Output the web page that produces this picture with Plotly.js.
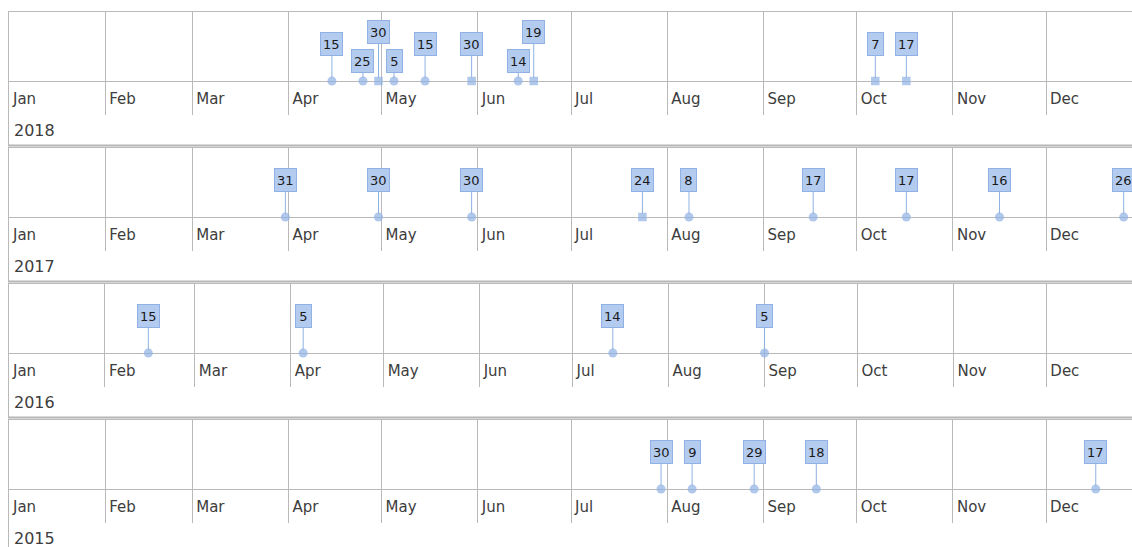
<!DOCTYPE html>
<html>
<head>
<meta charset="utf-8">
<script src="https://cdn.plot.ly/plotly-3.0.1.min.js"></script>
<style>html,body{margin:0;padding:0;background:#fff;}#chart{width:1132px;height:547px;}</style>
</head>
<body>
<div id="chart"></div>
<script>
// ---------------- data ----------------
const years = [2018, 2017, 2016, 2015];

const dates2018  = ['2018-04-15','2018-04-25','2018-04-30','2018-05-05','2018-05-15','2018-05-30','2018-06-14','2018-06-19','2018-10-07','2018-10-17'];
const labels2018 = ['15','25','30','5','15','30','14','19','7','17'];
const kinds2018  = ['dot','dot','square','dot','dot','square','dot','square','square','square'];

const dates2017  = ['2017-03-31','2017-04-30','2017-05-30','2017-07-24','2017-08-08','2017-09-17','2017-10-17','2017-11-16','2017-12-26'];
const labels2017 = ['31','30','30','24','8','17','17','16','26'];
const kinds2017  = ['dot','dot','dot','square','dot','dot','dot','dot','dot'];

const dates2016  = ['2016-02-15','2016-04-05','2016-07-14','2016-09-01'];
const labels2016 = ['15','5','14','5'];
const kinds2016  = ['dot','dot','dot','dot'];

const dates2015  = ['2015-07-30','2015-08-09','2015-08-29','2015-09-18','2015-12-17'];
const labels2015 = ['30','9','29','18','17'];
const kinds2015  = ['dot','dot','dot','dot','dot'];

const monthTickFormat = '%b';

// ---------------- layout / placement ----------------
const W = 1132, H = 547;
const series = [
  {dates: dates2018, labels: labels2018, kinds: kinds2018},
  {dates: dates2017, labels: labels2017, kinds: kinds2017},
  {dates: dates2016, labels: labels2016, kinds: kinds2016},
  {dates: dates2015, labels: labels2015, kinds: kinds2015}
];
// label tier used to avoid overlapping callouts (placement only)
const tiers = [
  ['A','B','C','B','A','A','B','C','A','A'],
  null, null, null
];
const tierOffset = {A: -37, B: -20, C: -49};

const pxPerDay = 3.105;
const leftPx = 9;
const spanDays = (W - leftPx) / pxPerDay;
const DAY = 86400000;

const markerColor = '#8fb1e3';
const boxFill = '#b3cbef';
const boxLine = '#8fb1e3';
const gridColor = '#b9b9b9';
const textColor = '#3d3d3d';
const font = 'DejaVu Sans, Verdana, sans-serif';

const symbolOf = {dot: 'circle', square: 'square'};
const sizeOf = {dot: 9, square: 8.5};

const traces = [];
const layout = {
  width: W, height: H,
  margin: {l: 0, r: 0, t: 0, b: 0},
  paper_bgcolor: '#ffffff', plot_bgcolor: '#ffffff',
  showlegend: false,
  annotations: [], shapes: []
};

const yp = px => 1 - px / H;
const xp = px => px / W;

years.forEach((yr, k) => {
  const s = series[k];
  const T = 11 + 136 * k;
  const suf = k === 0 ? '' : String(k + 1);
  const xa = 'x' + suf, ya = 'y' + suf;
  const start = Date.UTC(yr, 0, 1);
  const yearDays = (yr % 4 === 0) ? 366 : 365;

  traces.push({
    type: 'scatter', mode: 'markers',
    x: s.dates, y: s.dates.map(() => 0),
    xaxis: xa, yaxis: ya,
    marker: {
      color: markerColor,
      symbol: s.kinds.map(t => symbolOf[t]),
      size: s.kinds.map(t => sizeOf[t]),
      line: {width: 0}
    },
    hoverinfo: 'skip', cliponaxis: false
  });

  layout['xaxis' + suf] = {
    type: 'date',
    domain: [xp(leftPx), 1],
    range: [start, start + spanDays * DAY * yearDays / 365],
    anchor: 'free',
    position: yp(T + 70),
    tickmode: 'linear', tick0: yr + '-01-01', dtick: 'M1',
    tickformat: monthTickFormat,
    ticks: '', showline: false, zeroline: false,
    showgrid: true, gridcolor: gridColor, gridwidth: 1,
    ticklabelposition: 'outside right',
    ticklabelshift: 4,
    ticklabelstandoff: 7,
    tickfont: {family: font, size: 15, color: textColor},
    fixedrange: true
  };
  layout['yaxis' + suf] = {
    domain: [yp(T + 104), yp(T)],
    range: [-34, 70],
    showgrid: false, showticklabels: false, ticks: '',
    zeroline: true, zerolinecolor: gridColor, zerolinewidth: 1,
    showline: false, fixedrange: true
  };

  // callouts
  s.dates.forEach((d, i) => {
    const tier = tiers[k] ? tiers[k][i] : 'A';
    const lab = s.labels[i];
    const ann = {
      x: d, y: 0, xref: xa, yref: ya,
      text: lab,
      showarrow: true, arrowhead: 0, arrowwidth: 1, arrowcolor: markerColor,
      standoff: 3,
      ax: 0, ay: tierOffset[tier],
      bgcolor: boxFill, bordercolor: boxLine, borderwidth: 1, borderpad: 2,
      height: 18,
      font: {family: font, size: 13, color: '#1a1a1a'}
    };
    if (lab.length === 1) ann.width = 11;
    layout.annotations.push(ann);
  });

  // year label
  layout.annotations.push({
    xref: 'paper', yref: 'paper', x: xp(12), y: yp(T + 119),
    xanchor: 'left', yanchor: 'middle', showarrow: false,
    text: String(yr),
    font: {family: font, size: 16, color: textColor}
  });

  // frame
  layout.shapes.push(
    {type: 'line', xref: 'paper', yref: 'paper', x0: xp(8), x1: 1, y0: yp(T + 0.5), y1: yp(T + 0.5),
     line: {color: gridColor, width: 1}, layer: 'below'},
    {type: 'line', xref: 'paper', yref: 'paper', x0: xp(8.5), x1: xp(8.5), y0: yp(T), y1: yp(T + 135),
     line: {color: gridColor, width: 1}, layer: 'below'},
    {type: 'line', xref: 'paper', yref: 'paper', x0: xp(8), x1: 1, y0: yp(T + 134.5), y1: yp(T + 134.5),
     line: {color: '#b5b5b5', width: 2}, layer: 'below'}
  );
});

Plotly.newPlot('chart', traces, layout, {staticPlot: true, displayModeBar: false});
</script>
</body>
</html>
